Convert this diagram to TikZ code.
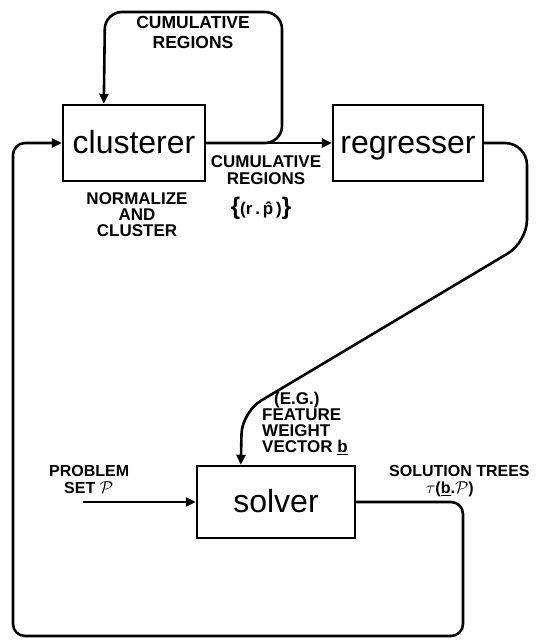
\documentclass[tikz,border=0pt]{standalone}
\usepackage{fontspec}
\setmainfont{Liberation Sans}
\usetikzlibrary{arrows.meta,calc}
\begin{document}
\begin{tikzpicture}[x=1pt,y=-1pt,
  wire/.style={line width=2.6pt},
  arr/.style={wire,-{Triangle[length=10pt,width=9pt]}},
  blk/.style={draw,line width=2.4pt,inner sep=0pt,text height=23pt,text depth=3pt,font=\fontsize{32}{32}\selectfont},
  lbl/.style={inner sep=0pt,font=\fontsize{17}{17}\selectfont\bfseries}
]
\useasboundingbox (0,0) rectangle (554,640);
% blocks
\node[blk,minimum width=142pt,minimum height=76pt] (cl) at (134,143) {clusterer};
\node[blk,minimum width=150pt,minimum height=76pt] (rg) at (408,143) {regresser};
\node[blk,minimum width=158pt,minimum height=72pt] (so) at (276,502) {solver};
% helper coordinates
\path (cl.north west) ++(42,0) coordinate (clin);
\path (so.north west) ++(45,0) coordinate (soin);
\coordinate (pin) at (83,502);
% connectors
\draw[arr] (cl.east) -- (rg.west);
\draw[arr,rounded corners=17pt] (cl.east) -- (282,143) -- (282,12) -- (105,12) -- (clin);
\draw[arr,rounded corners=22pt] (rg.east) -- (527,143) -- (527,242) -- (242,412) -- (soin);
\draw[arr] (pin) -- (so.west);
\draw[arr,rounded corners=12pt] (so.east) -- (463,502) -- (463,636) -- (13,636) -- (13,143) -- (cl.west);
% labels
\node[lbl,align=center,anchor=north,font=\fontsize{17.5}{20}\selectfont\bfseries] (t1) at (193,16) {CUMULATIVE\\REGIONS};
\node[lbl,align=center,anchor=north] (t2) at (266,155) {CUMULATIVE\\REGIONS};
\node[lbl] (t3) at (261,208) {{\fontsize{24}{24}\selectfont\{}(r\,.\,\^{p}\,){\fontsize{24}{24}\selectfont\}}};
\node[lbl,align=center,anchor=north,font=\fontsize{17}{16}\selectfont\bfseries] (t4) at (137,192) {NORMALIZE\\AND\\CLUSTER};
\node[lbl,align=left,anchor=north west,font=\fontsize{17}{16}\selectfont\bfseries] (t5) at (262,392) {\hspace{12pt}(E.G.)\\FEATURE\\WEIGHT\\VECTOR \underline{b}};
\node[lbl,align=left,anchor=north west,font=\fontsize{16}{17}\selectfont\bfseries] (t6) at (49,465) {PROBLEM\\\hspace{15pt}SET $\mathcal{P}$};
\node[lbl,align=left,anchor=north west,font=\fontsize{16}{17}\selectfont\bfseries] (t7) at (389,465) {SOLUTION TREES\\\hspace{37pt}$\tau$(\underline{b}.$\mathcal{P}$)};
\end{tikzpicture}
\end{document}
